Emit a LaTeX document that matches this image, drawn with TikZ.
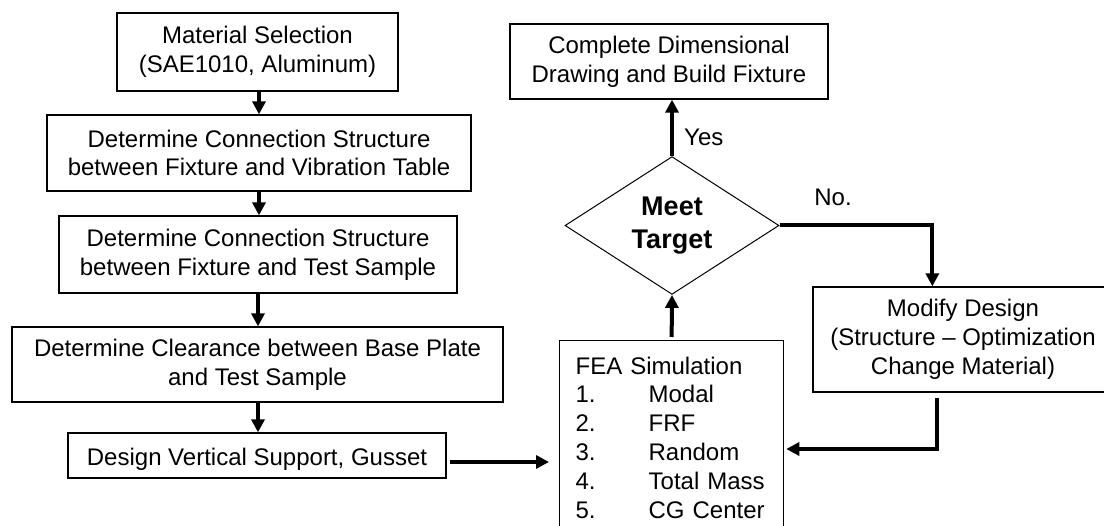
\documentclass[tikz,border=0pt]{standalone}
\usepackage{fontspec}
\setmainfont{Liberation Sans}
\usetikzlibrary{arrows.meta,shapes.geometric}

\tikzset{
  txt/.style={font=\fontsize{24}{28.8}\selectfont},
  framed/.style={draw, line width=1.3pt, inner sep=0pt, txt},
  stepbox/.style={framed, align=center, execute at begin node={\rule{0pt}{24pt}}},
  decision/.style={draw, diamond, line width=1pt, inner sep=0pt, align=center,
    font=\fontsize{27}{33}\selectfont\bfseries},
  arr/.style={line width=4pt, -{Triangle[length=13pt,width=13pt]}},
  lbl/.style={inner sep=0pt, txt}
}

\begin{document}
\begin{tikzpicture}[x=1pt, y=-1pt]
\useasboundingbox (0,0) rectangle (1104,526);
\clip (0,0) rectangle (1104,526);

% left column of design steps
\node[stepbox, line width=2.7pt, minimum width=281pt, minimum height=78pt] (m1) at (257.5,52)
  {Material Selection\\(SAE1010, Aluminum)};
\node[stepbox, minimum width=424pt, minimum height=76pt] (m2) at (259,153)
  {Determine Connection Structure\\between Fixture and Vibration Table};
\node[stepbox, minimum width=398pt, minimum height=77pt] (m3) at (258,254.5)
  {Determine Connection Structure\\between Fixture and Test Sample};
\node[stepbox, minimum width=491pt, minimum height=75pt] (m4) at (257.5,364.5)
  {Determine Clearance between Base Plate\\and Test Sample};
\node[stepbox, minimum width=378pt, minimum height=45pt] (m5) at (257,455.5)
  {Design Vertical Support, Gusset};

% simulation and decision loop
\node[framed, anchor=north west, align=left, text width=192pt, inner xsep=16pt,
  inner ysep=16pt] (fea) at (559,340)
  {FEA Simulation\\
   \makebox[73pt][l]{1.}Modal\\
   \makebox[73pt][l]{2.}FRF\\
   \makebox[73pt][l]{3.}Random\\
   \makebox[73pt][l]{4.}Total Mass\\
   \makebox[73pt][l]{5.}CG Center};
\node[decision, minimum width=214pt, minimum height=121pt] (dia) at (672,225.5)
  {Meet\\Target};
\node[stepbox, minimum width=318pt, minimum height=75pt] (cmp) at (669,61.5)
  {Complete Dimensional\\Drawing and Build Fixture};
\node[stepbox, minimum width=300pt, minimum height=105pt] (mod) at (963,339.5)
  {Modify Design\\(Structure -- Optimization\\Change Material)};

% connectors
\draw[arr] (m1.south -| 259,0) -- (m2.north -| 259,0);
\draw[arr] (m2.south -| 259,0) -- (m3.north -| 259,0);
\draw[arr] (m3.south -| 258,0) -- (m4.north -| 258,0);
\draw[arr] (m4.south -| 258,0) -- (m5.north -| 258,0);
\draw[arr, shorten >=10pt] ([xshift=3pt,yshift=-6.5pt]m5.east) -- ([yshift=-6.5pt]m5.east -| fea.west);
\draw[arr] ([yshift=3pt]fea.north) -- (dia.south);
\draw[arr] (dia.north) -- (dia.north |- cmp.south);
\draw[arr] (dia.east) -| ([xshift=120pt]mod.north west);
\coordinate (ret) at (938,449);
\draw[arr, shorten >=2pt] ([xshift=125pt,yshift=-5pt]mod.south west) |- (ret -| fea.east);

% branch labels
\node[lbl, anchor=west] (yes) at (684,137) {Yes};
\node[lbl] (no) at (833,197) {No.};
\end{tikzpicture}
\end{document}
